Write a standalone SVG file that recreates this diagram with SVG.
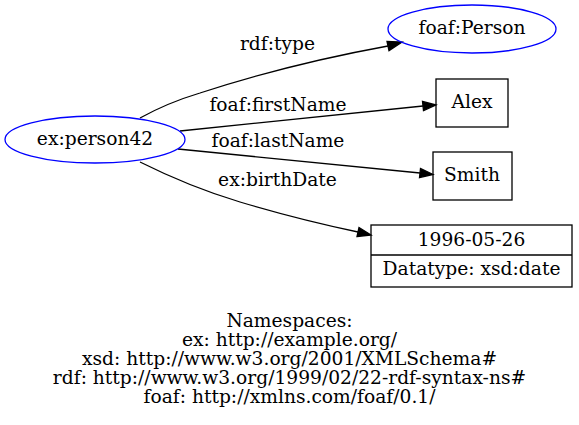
<svg xmlns="http://www.w3.org/2000/svg" width="579" height="425" viewBox="0 0 579 425">
<style>
text{font-family:"DejaVu Serif","Liberation Serif",serif;font-size:18.67px;fill:#000;text-anchor:middle}
.uri{fill:none;stroke:#0000ff;stroke-width:1.3}
.lit{fill:none;stroke:#000;stroke-width:1.3}
.edge{fill:none;stroke:#000;stroke-width:1.3}
.ah{fill:#000;stroke:#000;stroke-width:1.3}
</style>
<rect width="579" height="425" fill="#fff"/>
<g id="edges">
<g id="e-type"><path class="edge" d="M140,118 C160,107 180,99 200,93 C240,80 300,62 388,46"/><polygon class="ah" points="389,50.6 402,42 387,41.4"/><text x="277.5" y="50">rdf:type</text></g>
<g id="e-first"><path class="edge" d="M180,131 L423,106"/><polygon class="ah" points="423.5,110.6 436,105 422.5,101.4"/><text x="278" y="111">foaf:firstName</text></g>
<g id="e-last"><path class="edge" d="M178,149 L420,173"/><polygon class="ah" points="419.5,177.6 433,174.5 420.5,168.4"/><text x="278" y="146.7">foaf:lastName</text></g>
<g id="e-birth"><path class="edge" d="M140,162 C170,177 200,190 240,202 C280,214 320,224 358,232"/><polygon class="ah" points="357,236.5 371,235 359,227.5"/><text x="277.5" y="186">ex:birthDate</text></g>
</g>
<g id="n-person42"><ellipse class="uri" cx="95" cy="139.5" rx="90" ry="23.5"/><text x="95" y="145">ex:person42</text></g>
<g id="n-Person"><ellipse class="uri" cx="472" cy="29" rx="84" ry="24"/><text x="472" y="34">foaf:Person</text></g>
<g id="n-alex"><rect class="lit" x="436" y="79" width="72" height="48"/><text x="472" y="108">Alex</text></g>
<g id="n-smith"><rect class="lit" x="433" y="152" width="79" height="48"/><text x="472" y="181">Smith</text></g>
<g id="n-date"><rect class="lit" x="371" y="225" width="201" height="62"/><line class="lit" x1="371" y1="255" x2="572" y2="255"/><text x="471.5" y="246">1996-05-26</text><text x="471.5" y="275">Datatype: xsd:date</text></g>
<g id="namespaces">
<text x="289.5" y="327">Namespaces:</text>
<text x="289.5" y="346">ex: http://example.org/</text>
<text x="289.5" y="365">xsd: http://www.w3.org/2001/XMLSchema#</text>
<text x="289.5" y="384">rdf: http://www.w3.org/1999/02/22-rdf-syntax-ns#</text>
<text x="289.5" y="403">foaf: http://xmlns.com/foaf/0.1/</text>
</g>
</svg>
